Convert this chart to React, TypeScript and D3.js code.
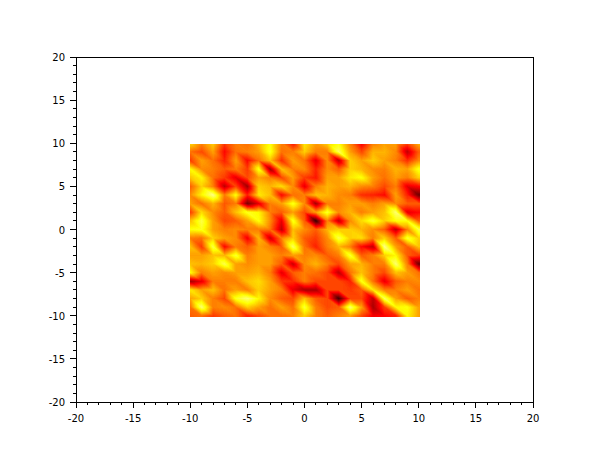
import React, { useMemo } from "react";
import * as d3 from "d3";

const W = 610, H = 460;
const xTicks = [-20, -15, -10, -5, 0, 5, 10, 15, 20];
const yTicks = [-20, -15, -10, -5, 0, 5, 10, 15, 20];
const xNodes = d3.range(-10, 11);
const yNodes = d3.range(10, -11, -1);
const colorLevels = 128;
// values in percent of the colour range, rows from y=10 down to y=-10, columns x=-10..10
const heat = [
[70,57,68,46,56,54,64,76,56,40,72,61,68,76,56,36,56,61,61,48,64],
[54,48,61,38,54,56,61,78,54,56,68,56,56,84,61,48,64,64,58,28,51],
[46,61,54,42,61,38,54,66,44,61,54,34,58,28,68,61,68,61,56,44,58],
[75,58,56,51,56,46,78,24,66,56,58,42,58,51,68,64,58,56,64,61,78],
[66,74,54,46,34,48,61,56,48,61,46,40,61,61,72,76,61,54,61,56,68],
[51,68,56,28,48,24,68,64,70,58,34,56,64,61,64,58,56,48,56,34,38],
[58,74,88,56,76,42,72,66,38,54,56,66,64,58,56,44,42,38,61,42,16],
[61,54,64,50,56,18,34,56,61,78,58,24,56,56,61,61,56,61,58,51,51],
[46,70,58,51,66,78,74,56,51,61,48,61,80,58,64,56,61,66,86,34,38],
[66,82,61,48,51,61,76,58,34,78,51,8,56,28,58,70,80,68,76,76,51],
[76,78,61,56,58,56,56,54,28,66,58,51,64,68,68,64,58,51,28,56,82],
[56,54,68,61,58,36,64,30,56,68,51,46,58,82,68,70,56,68,51,80,68],
[66,46,82,38,56,51,61,56,51,84,54,42,56,64,56,38,28,88,61,51,66],
[61,61,66,64,80,56,61,61,56,61,56,58,51,56,80,51,56,68,74,51,46],
[66,64,68,82,61,58,61,61,51,30,58,64,56,48,61,64,56,56,86,56,16],
[76,56,61,58,61,61,64,56,34,51,56,54,48,28,54,66,56,48,66,61,54],
[24,34,56,56,56,66,70,61,46,44,56,48,48,48,42,78,54,34,51,56,58],
[72,61,66,54,61,56,68,61,56,34,25,25,48,48,46,51,72,56,56,61,54],
[61,68,56,48,78,86,74,58,51,48,66,51,48,10,48,48,28,84,61,51,56],
[54,86,56,58,54,68,61,54,61,54,80,56,48,51,86,61,25,46,74,76,61],
[51,54,46,51,54,42,48,54,54,56,68,56,51,56,61,48,36,38,42,74,61],
];

const x = d3.scaleLinear().domain([-20, 20]).range([76, 533]);
const y = d3.scaleLinear().domain([-20, 20]).range([402, 57]);
const colX = d3.scaleLinear().domain([-10, 10]).range([0, xNodes.length - 1]);
const rowY = d3.scaleLinear().domain([10, -10]).range([0, yNodes.length - 1]);
const red = d3.scaleLinear().domain([0, 37.5, 100]).range([0, 255, 255]).clamp(true);
const green = d3.scaleLinear().domain([37.5, 75, 100]).range([0, 255, 255]).clamp(true);
const blue = d3.scaleLinear().domain([75, 100]).range([0, 255]).clamp(true);
const hot = (v: number) => `rgb(${Math.round(red(v))},${Math.round(green(v))},${Math.round(blue(v))})`;

function sample(u: number, v: number) {
  const c = Math.min(Math.floor(u), xNodes.length - 2);
  const r = Math.min(Math.floor(v), yNodes.length - 2);
  const fu = u - c, fv = v - r;
  const a = heat[r][c], d = heat[r + 1][c + 1];
  // each cell is split along the diagonal from upper left to lower right
  if (fu >= fv) return a + fu * (heat[r][c + 1] - a) + fv * (d - heat[r][c + 1]);
  return a + fv * (heat[r + 1][c] - a) + fu * (d - heat[r + 1][c]);
}

function useHeatPaths() {
  return useMemo(() => {
    const x0 = Math.round(x(-10)), x1 = Math.round(x(10));
    const y0 = Math.ceil(y(10)), y1 = Math.round(y(-10));
    const buckets = new Map<number, string[]>();
    for (let py = y0; py <= y1; py++) {
      for (let px = x0; px <= x1; px++) {
        const u = Math.max(0, Math.min(20, colX(x.invert(px + 0.5))));
        const v = Math.max(0, Math.min(20, rowY(y.invert(py + 0.5))));
        const k = Math.round((sample(u, v) / 100) * colorLevels);
        if (!buckets.has(k)) buckets.set(k, []);
        buckets.get(k)!.push(`M${px} ${py}h1v1h-1z`);
      }
    }
    return Array.from(buckets, ([k, parts]) => ({ k, d: parts.join("") }));
  }, []);
}

export default function App() {
  const paths = useHeatPaths();
  const minor = (major: number[]) =>
    major.slice(0, -1).flatMap((t) => d3.range(1, 5).map((i) => t + i));
  const font = { fontFamily: "'DejaVu Sans'", fontSize: 10, fill: "#000" };
  return (
    <svg width={W} height={H} style={{ position: "absolute", left: 0, top: 0, background: "#fff" }}>
      <g shapeRendering="crispEdges">
        {paths.map((p) => (
          <path key={p.k} d={p.d} fill={hot((p.k / colorLevels) * 100)} />
        ))}
      </g>
      <g shapeRendering="crispEdges" stroke="#000" fill="none" strokeWidth={1}>
        <rect x={x(-20)} y={y(20)} width={x(20) - x(-20)} height={y(-20) - y(20)} />
        {yTicks.map((t) => (
          <line key={t} x1={x(-20) - 6} x2={x(-20)} y1={y(t)} y2={y(t)} />
        ))}
        {minor(yTicks).map((t) => (
          <line key={t} x1={x(-20) - 3} x2={x(-20)} y1={y(t)} y2={y(t)} />
        ))}
        {xTicks.map((t) => (
          <line key={t} y1={y(-20)} y2={y(-20) + 6} x1={x(t)} x2={x(t)} />
        ))}
        {minor(xTicks).map((t) => (
          <line key={t} y1={y(-20)} y2={y(-20) + 3} x1={x(t)} x2={x(t)} />
        ))}
      </g>
      {yTicks.map((t) => (
        <text key={t} x={x(-20) - 11} y={y(t) + 4} textAnchor="end" {...font}>{t}</text>
      ))}
      {xTicks.map((t) => (
        <text key={t} x={x(t)} y={y(-20) + 20} textAnchor="middle" {...font}>{t}</text>
      ))}
    </svg>
  );
}
